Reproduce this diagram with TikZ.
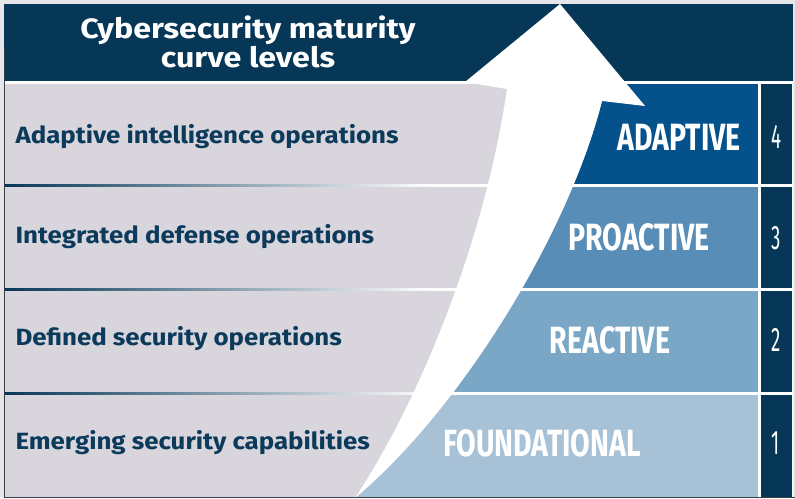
\documentclass[tikz,border=0pt]{standalone}
\usepackage{fontspec}
\setmainfont{Fira Sans}
\newfontfamily\widefont[FakeStretch=1.1]{Fira Sans}
\newfontfamily\titlefont[FakeStretch=1.15]{Fira Sans}
\newfontfamily\bandfont[FakeStretch=0.75]{Fira Sans}
\newfontfamily\numfont[FakeStretch=0.55]{Fira Sans}

\definecolor{margin}{HTML}{E4E6EA}
\definecolor{navy}{HTML}{063756}
\definecolor{rowgrey}{HTML}{D8D5DC}
\definecolor{textnavy}{HTML}{0B3A5B}
\definecolor{adaptblue}{HTML}{04518B}
\definecolor{proactblue}{HTML}{578DB6}
\definecolor{reactblue}{HTML}{7BA7C6}
\definecolor{foundblue}{HTML}{A7C1D6}
\definecolor{edgeline}{HTML}{3A3F46}

\begin{document}
\begin{tikzpicture}[x=1pt, y=-1pt,
  optext/.style={anchor=west, text=textnavy, font=\widefont\fontsize{23.5}{26}\selectfont\bfseries},
  bandtext/.style={text=white, font=\bandfont\fontsize{38}{40}\selectfont\bfseries},
  numtext/.style={text=white, font=\numfont\fontsize{34}{36}\selectfont}]
\useasboundingbox (0,0) rectangle (795,498);
\fill[margin] (0,0) rectangle (795,498);
\fill[white] (4,81) rectangle (793,498);
% header bar
\fill[navy] (4,4) rectangle (793,81);
% grey rows and the level column
\foreach \ya/\yb in {84/184, 187/288, 291/392, 395/497}{
  \fill[rowgrey] (4,\ya) rectangle (758,\yb);
  \fill[navy] (761,\ya) rectangle (792,\yb);
}
% coloured bands, cut along the right side of the arrow
\begin{scope}
  \clip (355,498) .. controls (460,410) and (568,235) .. (602,101)
    -- (640,0) -- (800,0) -- (800,500) -- cycle;
  \fill[adaptblue] (300,84) rectangle (758,184);
  \fill[proactblue] (300,187) rectangle (758,288);
  \fill[reactblue] (300,291) rectangle (758,392);
  \fill[foundblue] (300,395) rectangle (758,497);
\end{scope}
% row separators fading out
\foreach \y in {185.5, 289.5, 393.5}
  \shade[left color=navy, right color=white] (4,\y-1) rectangle (430,\y+1);
% the curved arrow
\fill[white] (355,498) .. controls (420,400) and (485,240) .. (507,89)
  -- (465,82) -- (560,4) -- (645,106) -- (602,101)
  .. controls (568,235) and (460,410) .. (355,498) -- cycle;
% frame lines
\draw[edgeline, line width=0.8pt] (4.4,47) -- (4.4,498);
\draw[edgeline, line width=0.8pt] (4,497.6) -- (795,497.6);

\node[text=white, align=center, font=\titlefont\fontsize{28}{27}\selectfont\bfseries] (title) at (248,42)
  {Cybersecurity maturity\\curve levels};

\node[optext] (adaptiveops) at (12,137) {Adaptive intelligence operations};
\node[optext] (integratedops) at (12,237) {Integrated defense operations};
\node[optext] (definedops) at (12,339) {Defined security operations};
\node[optext] (emergingops) at (12,443) {Emerging security capabilities};

\node[bandtext] (adaptive) at (679,137) {ADAPTIVE};
\node[bandtext] (proactive) at (639,237) {PROACTIVE};
\node[bandtext] (reactive) at (610,340) {REACTIVE};
\node[bandtext] (foundational) at (542,443) {FOUNDATIONAL};

\node[numtext] (lvl4) at (776,137) {4};
\node[numtext] (lvl3) at (776,238) {3};
\node[numtext] (lvl2) at (776,340) {2};
\node[numtext] (lvl1) at (776,443) {1};
\end{tikzpicture}
\end{document}
